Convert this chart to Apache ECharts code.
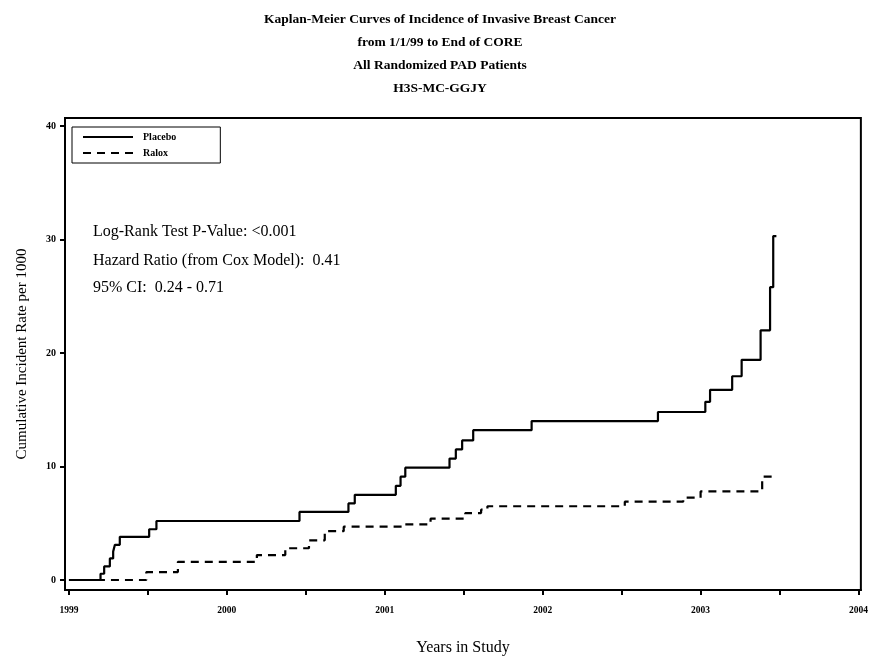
<!DOCTYPE html>
<html>
<head>
<meta charset="utf-8">
<script src="https://cdn.jsdelivr.net/npm/echarts@6/dist/echarts.min.js"></script>
<style>
  html, body { margin: 0; padding: 0; background: #fff; }
  #chart { width: 871px; height: 661px; }
</style>
</head>
<body>
<div id="chart"></div>
<script>
// Kaplan-Meier step points: [year, cumulative rate per 1000]
const placebo = [
  [1999.00, 0], [1999.20, 0.55], [1999.223, 1.2], [1999.259, 1.9], [1999.28, 2.5],
  [1999.291, 3.1], [1999.322, 3.8], [1999.508, 4.47], [1999.554, 5.2],
  [2000.46, 6.0], [2000.77, 6.75], [2000.81, 7.5], [2001.07, 8.3], [2001.10, 9.1],
  [2001.13, 9.9], [2001.41, 10.7], [2001.45, 11.5], [2001.49, 12.3], [2001.56, 13.2],
  [2001.93, 14.0], [2002.73, 14.8], [2003.03, 15.7], [2003.06, 16.75], [2003.20, 17.95],
  [2003.26, 19.4], [2003.38, 22.0], [2003.44, 25.8], [2003.46, 30.3], [2003.48, 30.3]
];
const ralox = [
  [1999.00, 0], [1999.49, 0.7], [1999.69, 1.6], [2000.19, 2.2], [2000.37, 2.8],
  [2000.52, 3.5], [2000.62, 4.3], [2000.74, 4.7], [2001.12, 4.9], [2001.29, 5.4],
  [2001.51, 5.9], [2001.61, 6.2], [2001.65, 6.5], [2002.52, 6.9], [2002.89, 7.25],
  [2003.00, 7.8], [2003.39, 9.1], [2003.48, 9.1]
];
const yearLabels = [1999, 2000, 2001, 2002, 2003, 2004];
const yearTicks = [1999, 1999.5, 2000, 2000.5, 2001, 2001.5, 2002, 2002.5, 2003, 2003.5, 2004];
const rateTicks = [0, 10, 20, 30, 40];
const titleLines = [
  'Kaplan-Meier Curves of Incidence of Invasive Breast Cancer',
  'from 1/1/99 to End of CORE',
  'All Randomized PAD Patients',
  'H3S-MC-GGJY'
];
const notes = [
  'Log-Rank Test P-Value: <0.001',
  'Hazard Ratio (from Cox Model):  0.41',
  '95% CI:  0.24 - 0.71'
];

const serif = '"Liberation Serif", "DejaVu Serif", serif';
const chart = echarts.init(document.getElementById('chart'));

chart.setOption({
  animation: false,
  backgroundColor: '#fff',
  title: {
    text: titleLines.join('\n'),
    left: 440,
    textAlign: 'center',
    top: 8,
    padding: 0,
    textStyle: {
      fontFamily: serif, fontSize: 13.5, fontWeight: 'bold', color: '#000', lineHeight: 23
    }
  },
  legend: {
    orient: 'vertical',
    left: 72,
    top: 127,
    padding: [5, 44, 5, 10],
    itemWidth: 50,
    itemHeight: 10,
    itemGap: 6,
    borderColor: '#000',
    borderWidth: 1,
    itemStyle: { opacity: 0 },
    textStyle: { fontFamily: serif, fontSize: 10, fontWeight: 'bold', color: '#000', padding: [0, 0, 0, 5] },
    data: ['Placebo', 'Ralox']
  },
  grid: {
    left: 65, right: 9, top: 118, bottom: 69,
    show: true, borderColor: '#000', borderWidth: 2
  },
  xAxis: {
    type: 'value',
    min: 1998.975,
    max: 2004.015,
    name: 'Years in Study',
    nameLocation: 'middle',
    nameGap: 50,
    nameTextStyle: { fontFamily: serif, fontSize: 16, color: '#000' },
    axisLine: { onZero: false, lineStyle: { color: '#000', width: 2 } },
    axisTick: { customValues: yearTicks, length: 5, lineStyle: { color: '#000', width: 2 } },
    axisLabel: {
      customValues: yearLabels,
      margin: 16,
      fontFamily: serif, fontSize: 9.5, fontWeight: 'bold', color: '#000',
      formatter: (v) => String(Math.round(v))
    },
    splitLine: { show: false }
  },
  yAxis: {
    type: 'value',
    min: -0.88,
    max: 40.7,
    name: 'Cumulative Incident Rate per 1000',
    nameLocation: 'middle',
    nameGap: 35,
    nameTextStyle: { fontFamily: serif, fontSize: 15, color: '#000' },
    axisLine: { show: true, onZero: false, lineStyle: { color: '#000', width: 2 } },
    axisTick: { show: true, customValues: rateTicks, length: 5, lineStyle: { color: '#000', width: 2 } },
    axisLabel: {
      customValues: rateTicks,
      margin: 9,
      fontFamily: serif, fontSize: 10, fontWeight: 'bold', color: '#000'
    },
    splitLine: { show: false }
  },
  graphic: notes.map((t, i) => ({
    type: 'text',
    left: 93,
    top: [224, 253, 280][i],
    style: { text: t, font: '16px ' + serif, fill: '#000' }
  })),
  series: [
    {
      name: 'Placebo',
      type: 'line',
      step: 'end',
      symbol: 'none',
      data: placebo,
      lineStyle: { color: '#000', width: 2.2 },
      itemStyle: { color: '#000' }
    },
    {
      name: 'Ralox',
      type: 'line',
      step: 'end',
      symbol: 'none',
      data: ralox,
      lineStyle: { color: '#000', width: 2.2, type: [8, 6] },
      itemStyle: { color: '#000' }
    }
  ]
});
</script>
</body>
</html>
